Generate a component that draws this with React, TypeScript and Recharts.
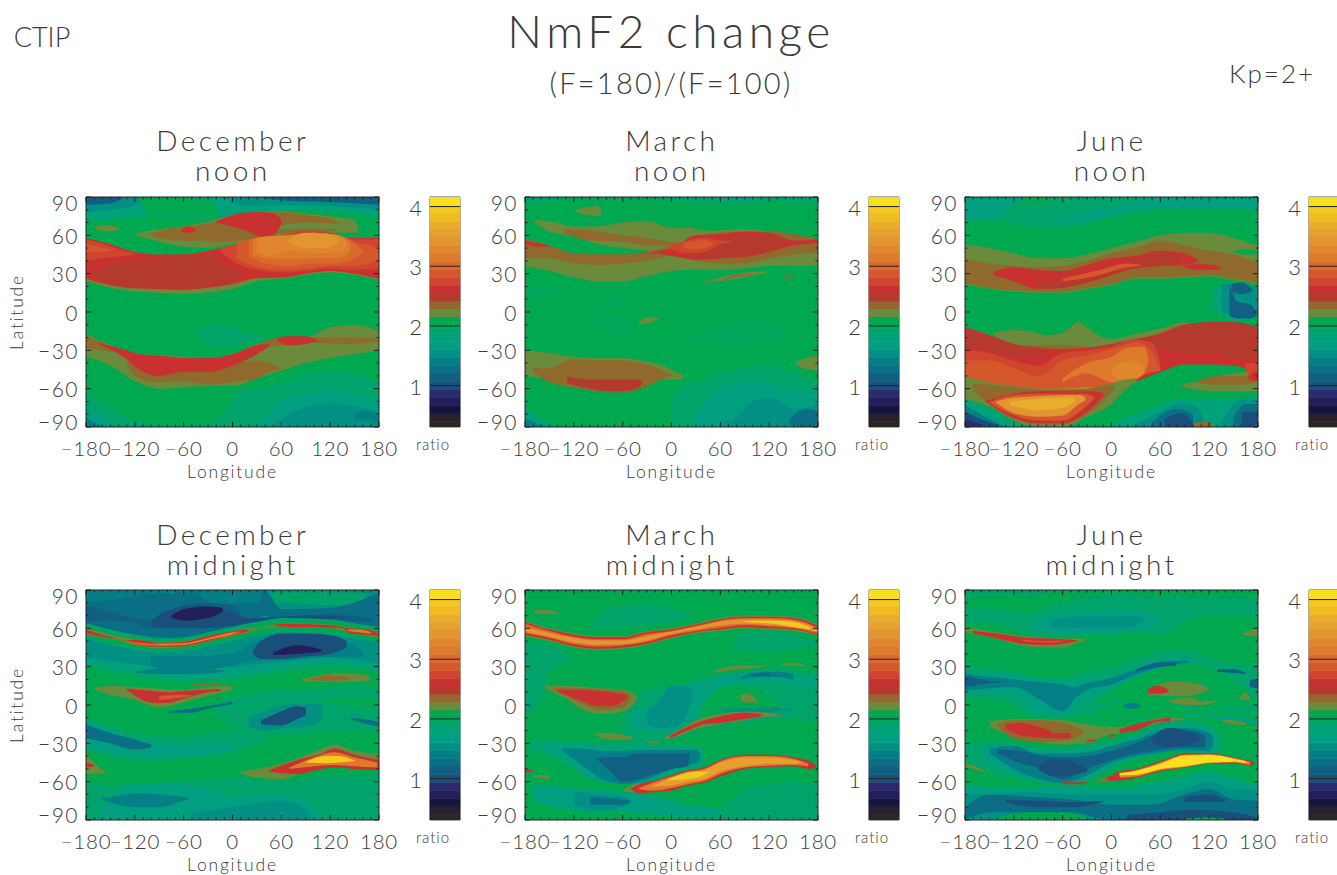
import React from "react";
import { ComposedChart, BarChart, Area, Bar, XAxis, YAxis, ReferenceLine, ReferenceArea } from "recharts";

type Layer = [number, number[][]];

const levelColors = [
  "#2a2624", "#2a1f2c", "#15143f", "#221f5a", "#2b2a6c", "#1a4f7c", "#115f82", "#0a6e85", "#047f86", "#028f84",
  "#009f80", "#00a27a", "#00a46a", "#00a65a", "#00a850", "#00a84f", "#6a8a3c", "#90692c", "#b53a2e", "#c93030",
  "#cf452d", "#d5582c", "#d96a2c", "#dd7a2c", "#e0862d", "#e3952f", "#e5a02f", "#e9ac2b", "#efbc24", "#f4c81f", "#f8e01e",
];
const levelBreaks = [0.306, 0.4, 0.53, 0.67, 0.8, 0.94, 1.07, 1.21, 1.34, 1.47, 1.61, 1.74, 1.88, 1.95, 2.01, 2.08, 2.15, 2.28, 2.41, 2.55, 2.68, 2.81, 2.95, 3.08, 3.22, 3.35, 3.49, 3.62, 3.75, 3.89, 4.02, 4.16];
const lonTicks = [-180, -170, -160, -150, -140, -130, -120, -110, -100, -90, -80, -70, -60, -50, -40, -30, -20, -10, 0, 10, 20, 30, 40, 50, 60, 70, 80, 90, 100, 110, 120, 130, 140, 150, 160, 170, 180];
const latTicks = [-90, -80, -70, -60, -50, -40, -30, -20, -10, 0, 10, 20, 30, 40, 50, 60, 70, 80, 90];
const ratioTicks = [1, 2, 3, 4];

const decNoon: Layer[] = [
  [14, [[-180, -90, 90], [180, -90, 90]]],
  [11, [[-180, 72, 90], [-150, 73, 90], [-120, 74, 90], [-90, 76, 90], [-60, 76, 90], [-30, 75, 90], [0, 74, 90], [30, 77, 90], [60, 79, 90], [90, 80, 90], [120, 79, 90], [150, 77, 90], [180, 75, 90]]],
  [9, [[-180, 78, 90], [-150, 80, 90], [-125, 82, 90], [-110, 89, 90]]],
  [9, [[-10, 89, 90], [15, 83, 90], [60, 84, 90], [120, 83, 90], [180, 80, 90]]],
  [6, [[-180, 84, 90], [-150, 85, 90], [-135, 89, 90]]],
  [6, [[40, 89, 90], [70, 87, 90], [120, 86, 90], [180, 84, 90]]],
  [14, [[-115, 89, 90], [-100, 76, 90], [-60, 77, 89], [-30, 76, 88], [-15, 75, 76]]],
  [16, [[-170, 66, 67], [-155, 63, 68], [-140, 64, 66]]],
  [16, [[-120, 60, 61], [-90, 55, 65], [-60, 51, 67], [-30, 50, 71], [0, 53, 76], [30, 57, 78], [60, 60, 79], [90, 62, 77], [120, 62, 75], [150, 62, 72], [155, 62, 63]]],
  [17, [[-100, 60, 62], [-70, 56, 66], [-40, 56, 68], [-10, 55, 72], [30, 58, 78], [60, 62, 78], [90, 62, 76], [120, 63, 73], [130, 64, 70]]],
  [16, [[50, 63, 65], [70, 65, 69], [100, 65, 70], [130, 65, 69], [135, 66, 67]]],
  [19, [[-63, 63, 64], [-55, 62, 67], [-45, 63, 65]]],
  [19, [[-20, 70, 71], [0, 67, 76], [20, 63, 78], [35, 59, 78], [50, 60, 77], [60, 69, 72]]],
  [16, [[-180, 24, 58], [-150, 19, 53], [-120, 16, 47], [-90, 15, 45], [-60, 14, 45], [-30, 15, 48], [0, 18, 52], [30, 24, 58], [60, 26, 60.5], [90, 29, 63], [120, 31, 62], [140, 30, 58], [180, 25, 58]]],
  [19, [[-180, 26, 58], [-150, 21, 53], [-120, 18.5, 47], [-90, 18, 45], [-60, 17.5, 45], [-30, 19, 48], [0, 22, 52], [30, 26.5, 58], [60, 27, 60.5], [90, 30, 63], [120, 32, 62], [140, 31, 58], [180, 26, 58]]],
  [20, [[-180, 40, 57], [-160, 42, 53.5], [-130, 44, 47.5], [-120, 45, 46]]],
  [21, [[-180, 47, 53], [-165, 47, 51], [-150, 48, 49]]],
  [18, [[-170, 27, 31], [-150, 22, 37], [-120, 19, 40], [-90, 19, 43], [-60, 18.5, 44], [-30, 20, 44], [-10, 22, 38], [10, 27, 29]]],
  [20, [[-15, 48, 50], [0, 40, 52], [30, 33, 58], [60, 31, 60], [90, 32, 62.5], [120, 34, 61], [140, 33, 57], [180, 34, 57]]],
  [21, [[5, 42, 54], [30, 35, 58], [60, 33, 60], [90, 34, 62], [120, 36, 61], [140, 36, 56], [170, 38, 52], [180, 42, 50]]],
  [22, [[20, 43, 56], [40, 38, 59], [70, 36, 60], [100, 38, 62], [130, 38, 60], [150, 42, 54], [160, 47, 48]]],
  [23, [[25, 45, 57], [40, 42, 59], [70, 41, 60], [100, 42, 62], [130, 42, 60], [145, 47, 54]]],
  [24, [[30, 47, 58], [45, 44, 59], [75, 48, 60], [100, 46, 62], [130, 47, 60], [140, 50, 55]]],
  [25, [[70, 54, 57], [90, 50, 62], [110, 50, 61], [125, 52, 60], [130, 55, 57]]],
  [12, [[-45, -15, -13], [-20, -27, -10], [0, -27, -12], [15, -24, -16], [40, -22, -19]]],
  [16, [[-180, -35, -17], [-150, -42, -26], [-120, -54, -33], [-90, -60, -33.5], [-60, -59, -35], [-30, -58, -36], [0, -58, -33], [30, -52, -25], [60, -46, -21], [90, -40, -20], [120, -36, -12], [150, -33, -10], [180, -30, -15]]],
  [17, [[-180, -28, -19], [-160, -30, -24], [-145, -31, -29]]],
  [17, [[-130, -40, -38], [-120, -50, -37], [-90, -55, -36], [-60, -54, -37], [-30, -57, -40], [0, -55, -40], [30, -52, -38], [45, -47, -40], [60, -45, -44]]],
  [17, [[30, -28, -26], [60, -26, -20], [100, -24, -20], [140, -25, -20], [180, -23, -21]]],
  [19, [[-165, -25, -24], [-130, -37, -30], [-115, -45, -33], [-90, -50, -34], [-60, -47, -36], [-30, -47, -36], [0, -42, -33], [30, -33, -26], [45, -27, -25]]],
  [19, [[56, -23, -20], [70, -26, -19], [90, -25, -19], [103, -23, -22]]],
  [12, [[-180, -90, -62], [-160, -90, -72], [-120, -90, -85], [-90, -90, -88], [-30, -90, -88], [0, -90, -70], [10, -90, -62], [30, -90, -60], [60, -90, -55], [90, -90, -49], [120, -90, -46], [150, -90, -48], [180, -90, -55]]],
  [10, [[-180, -90, -75], [-150, -90, -86], [-140, -90, -90]]],
  [10, [[30, -90, -88], [45, -90, -78], [60, -90, -70], [90, -90, -65], [120, -90, -62], [150, -90, -65], [180, -90, -68]]],
  [9, [[50, -90, -88], [70, -90, -80], [100, -90, -73], [120, -90, -71], [150, -90, -74], [180, -90, -78]]],
  [8, [[-180, -90, -82], [-165, -90, -88], [-155, -90, -90]]],
  [8, [[150, -84, -80], [165, -84, -77], [180, -88, -81]]],
];

const marNoon: Layer[] = [
  [14, [[-180, -90, 90], [180, -90, 90]]],
  [12, [[-180, 85, 90], [-100, 88, 90], [0, 87, 90], [60, 85, 90], [120, 86, 90], [180, 84, 90]]],
  [11, [[30, 89, 90], [60, 88, 90], [90, 86, 90], [110, 88, 90]]],
  [16, [[-119, 79, 80], [-105, 76, 82], [-90, 75, 83], [-86, 78, 80]]],
  [16, [[-170, 71, 72], [-150, 63, 71], [-120, 59, 67], [-90, 53, 67], [-60, 50, 70], [-30, 48, 71], [0, 46, 66], [20, 44, 66], [40, 45, 64], [60, 48, 63], [110, 55, 62], [120, 60, 61]]],
  [16, [[-180, 36, 57], [-150, 32, 50], [-120, 27, 46], [-90, 24, 45], [-60, 24, 45], [-30, 28, 47], [0, 32, 52], [30, 33, 62], [60, 33, 64], [90, 34, 65], [120, 36, 63], [150, 36, 60], [180, 36, 57]]],
  [17, [[-132, 62, 65], [-100, 56, 64], [-60, 55, 60], [-30, 52, 58], [0, 52, 55], [17, 53, 54]]],
  [17, [[-180, 42, 57], [-150, 42, 52], [-120, 38, 46], [-90, 37, 45], [-60, 38, 45], [-30, 40, 47], [0, 44, 52], [30, 40, 58], [60, 38, 62], [90, 38, 63], [120, 42, 63], [150, 45, 61], [180, 46, 57]]],
  [19, [[-180, 54, 56], [-165, 51, 54], [-150, 51, 52]]],
  [19, [[-45, 44, 44.5], [-20, 46, 47], [0, 44, 50], [30, 41, 60], [60, 42, 61], [90, 43, 63], [120, 47, 62], [150, 52, 56], [180, 54, 57]]],
  [18, [[20, 42, 50], [60, 42, 58], [90, 45, 60], [120, 48, 61], [145, 53, 54]]],
  [20, [[-5, 50, 50.5], [20, 46, 56], [40, 47, 58], [60, 53, 56], [75, 55, 55.5]]],
  [21, [[15, 50, 54], [30, 49, 56], [45, 51, 56], [50, 53, 54]]],
  [16, [[37, 22.5, 23], [60, 24, 27], [90, 27, 31], [119, 31, 32]]],
  [17, [[65, 24.5, 25.5], [75, 27, 28.5], [100, 29, 30]]],
  [17, [[138, 27.5, 28], [145, 27, 29], [150, 27.5, 28]]],
  [13, [[-178, 12, 18], [-160, 12, 19], [-138, 14, 16]]],
  [13, [[-90, 3, 4], [-70, 4, 11], [-50, 4, 13]]],
  [13, [[-100, -5, -3], [-80, -16, -2], [-50, -17, -3]]],
  [16, [[-40, -10, -7], [-25, -8, -4], [-15, -6, -5]]],
  [13, [[15, -20, -19], [40, -24, -14], [70, -27, -9], [100, -26, -7], [130, -21, -10], [150, -14, -13]]],
  [16, [[-180, -50, -30], [-150, -53, -32], [-120, -58, -35], [-90, -60, -36], [-60, -60, -36], [-30, -58, -39], [-10, -53, -42], [0, -53, -45], [15, -52, -50]]],
  [17, [[-170, -46, -43], [-150, -55, -44], [-120, -59, -37], [-90, -62, -38], [-60, -63, -38], [-30, -58, -41], [-10, -52, -46], [0, -50, -49]]],
  [18, [[-128, -56, -50], [-100, -60, -53], [-80, -62, -53], [-60, -62, -53], [-40, -59, -53], [-36, -55, -53]]],
  [16, [[152, -40, -39], [165, -45, -36], [180, -46, -34]]],
  [12, [[0, -90, -72], [10, -90, -60], [30, -90, -56], [60, -90, -48], [90, -90, -43], [120, -90, -42], [150, -90, -47], [180, -90, -55]]],
  [10, [[30, -90, -82], [50, -90, -66], [80, -90, -56], [110, -90, -55], [140, -90, -60], [180, -90, -63]]],
  [9, [[60, -90, -86], [80, -90, -82], [100, -90, -70], [120, -90, -67], [150, -90, -76], [180, -90, -72]]],
  [7, [[145, -88, -84], [165, -90, -76], [180, -90, -78]]],
  [10, [[-180, -90, -76], [-160, -90, -84], [-140, -90, -90]]],
  [8, [[-180, -90, -83], [-155, -90, -90]]],
];

const junNoon: Layer[] = [
  [14, [[-180, -90, 90], [180, -90, 90]]],
  [12, [[-180, 70, 90], [-140, 71, 90], [-100, 67, 90], [-60, 65, 90], [-30, 69, 90], [0, 74, 90], [60, 80, 90], [120, 80, 90], [180, 79, 90]]],
  [10, [[-180, 74, 90], [-150, 74, 90], [-120, 84, 90], [-100, 89, 90]]],
  [10, [[-70, 70, 71], [-30, 72, 79], [0, 76, 81], [60, 82, 90], [120, 82, 90], [180, 81, 90]]],
  [14, [[-110, 85, 90], [-90, 84, 90], [-70, 87, 90]]],
  [16, [[-180, 22, 53], [-150, 18, 50], [-120, 16, 46], [-90, 15, 42], [-60, 15, 42], [-30, 18, 45], [0, 21, 50], [30, 26, 55], [60, 26, 60], [90, 27, 62], [120, 28, 62], [150, 25, 58], [180, 22, 52]]],
  [14, [[150, 47, 48], [165, 45, 49], [180, 45, 48]]],
  [17, [[-180, 23, 41], [-150, 19, 38], [-120, 17, 36], [-90, 16, 35], [-60, 16, 36], [-30, 19, 40], [0, 22, 46], [30, 27, 50], [60, 27, 56], [90, 28, 52], [120, 29, 48], [150, 26, 45], [180, 23, 38]]],
  [19, [[-145, 29, 31], [-120, 24, 35], [-90, 18, 33], [-60, 19, 32], [-30, 23, 37], [0, 29, 42], [30, 34, 44], [60, 36, 48], [90, 37, 46], [105, 39, 41]]],
  [18, [[-90, 18, 24], [-60, 19, 24], [-30, 23, 28], [10, 32, 35], [60, 37, 46], [85, 39, 44]]],
  [19, [[88, 35, 36], [105, 33, 37.5], [125, 33, 37], [135, 33, 34]]],
  [21, [[-60, 24, 26], [-20, 28, 32], [20, 35, 38], [35, 36, 37]]],
  [11, [[125, 2, 18], [140, -4, 22], [160, -7, 22], [180, -2, 18]]],
  [9, [[135, 2, 22], [150, -3, 22], [165, -3, 22], [180, 2, 16]]],
  [6, [[145, -3, 22], [155, -5, 8], [170, -5, 6], [178, -3, 0]]],
  [6, [[148, 16, 22], [160, 14, 23], [172, 16, 18]]],
  [16, [[-145, -18, -16], [-120, -28, -14], [-100, -30, -15], [-80, -30, -18], [-60, -30, -16], [-40, -30, -8], [-30, -30, -12], [-10, -30, -20], [0, -30, -21], [30, -25, -17], [60, -25, -13], [90, -20, -8], [100, -15, -10]]],
  [17, [[-120, -27, -26], [-90, -30, -26], [-60, -30, -26], [-30, -29, -27]]],
  [17, [[10, -26, -24], [40, -24, -21], [60, -21, -16], [90, -20, -10], [100, -15, -12]]],
  [19, [[-180, -51, -12], [-150, -57, -18], [-120, -58, -25], [-90, -61, -28], [-60, -62, -29], [-30, -60, -28], [0, -56, -25], [30, -54, -21], [60, -47, -17], [90, -41, -10], [120, -41, -8], [150, -42, -8], [180, -47, -12]]],
  [18, [[-180, -28, -14], [-150, -30, -20], [-120, -35, -26], [-100, -34, -29], [-80, -33, -30]]],
  [18, [[40, -28, -20], [70, -30, -16], [90, -32, -10], [120, -32, -8], [150, -36, -8], [180, -38, -12]]],
  [20, [[-180, -52, -30], [-150, -56, -32], [-120, -58, -38], [-90, -61, -42], [-60, -62, -32], [-30, -60, -30], [0, -56, -27], [30, -52, -22], [50, -46, -24], [60, -44, -40]]],
  [21, [[-180, -52, -38], [-150, -56, -38], [-120, -58, -44], [-90, -61, -50], [-60, -62, -38], [-30, -60, -34], [0, -56, -29], [30, -52, -24], [45, -48, -28], [60, -46, -44]]],
  [23, [[-60, -55, -52], [-30, -48, -40], [0, -55, -35], [20, -55, -28], [40, -48, -27], [45, -40, -35]]],
  [24, [[0, -48, -44], [15, -54, -39], [30, -52, -38], [40, -48, -42]]],
  [24, [[-60, -62, -60], [-30, -61, -59], [-15, -60, -59]]],
  [16, [[-180, -68, -50], [-150, -74, -55], [-120, -85, -58], [-90, -90, -60], [-60, -90, -60], [-30, -82, -60], [0, -72, -56], [15, -62, -53], [30, -55, -52]]],
  [17, [[-170, -62, -56], [-150, -72, -57], [-120, -84, -59], [-90, -88, -61], [-60, -88, -61], [-30, -80, -60], [-10, -70, -58], [3, -60, -57]]],
  [19, [[-155, -70, -69.5], [-120, -83, -64], [-90, -87, -62], [-60, -87, -62], [-30, -78, -62], [-10, -66, -63]]],
  [21, [[-150, -71, -71], [-130, -78, -66], [-90, -85, -64], [-60, -85, -64], [-35, -76, -64], [-22, -68, -66]]],
  [25, [[-142, -71, -70], [-120, -79, -67], [-90, -82, -66], [-60, -81, -65], [-40, -72, -65], [-32, -69, -67]]],
  [27, [[-125, -73, -70], [-90, -77, -68], [-60, -75, -67], [-45, -70, -67]]],
  [16, [[85, -58, -57], [120, -62, -52], [150, -62, -48], [180, -62, -46]]],
  [17, [[105, -55, -54], [130, -57, -50], [160, -57, -50], [180, -54, -50]]],
  [20, [[165, -47, -40], [180, -52, -40]]],
  [19, [[168, -52, -50], [175, -54, -47], [180, -54, -46]]],
  [11, [[-180, -90, -68], [-150, -90, -76], [-120, -90, -86], [-90, -90, -90]]],
  [8, [[-180, -90, -73], [-155, -90, -82], [-130, -90, -90]]],
  [5, [[-180, -90, -78], [-160, -90, -84], [-140, -90, -88]]],
  [4, [[-180, -90, -84], [-160, -90, -88]]],
  [11, [[0, -90, -87], [30, -90, -80], [60, -90, -72], [90, -90, -68], [120, -90, -68], [150, -90, -68], [180, -90, -66]]],
  [9, [[30, -90, -88], [60, -90, -78], [85, -90, -72], [105, -90, -74], [115, -90, -88]]],
  [9, [[135, -90, -86], [150, -90, -72], [165, -90, -68], [180, -90, -68]]],
  [7, [[50, -90, -86], [80, -90, -76], [100, -90, -80]]],
  [7, [[150, -90, -82], [165, -90, -72], [180, -90, -72]]],
  [5, [[65, -90, -84], [85, -90, -79], [100, -90, -86]]],
  [5, [[160, -90, -78], [180, -90, -78]]],
  [17, [[100, -90, -87], [112, -90, -86], [125, -90, -87]]],
];

const decMid: Layer[] = [
  [14, [[-180, -90, 90], [180, -90, 90]]],
  [12, [[-180, 30, 90], [-120, 23, 90], [-60, 18, 90], [0, 20, 90], [60, 26, 90], [120, 30, 90], [180, 26, 90]]],
  [10, [[-180, 33, 90], [-120, 27, 90], [-60, 21, 90], [0, 23, 90], [60, 29, 90], [120, 33, 90], [180, 28, 90]]],
  [9, [[-180, 37, 90], [-120, 32, 90], [-60, 28, 90], [0, 30, 90], [60, 34, 90], [120, 37, 90], [180, 33, 90]]],
  [8, [[-120, 25, 26], [-60, 24, 30], [-30, 25, 28], [-10, 26, 27]]],
  [12, [[40, 78, 86], [60, 80, 89], [120, 78, 89], [160, 82, 88], [165, 84, 85]]],
  [7, [[-180, 62, 90], [-120, 55, 90], [-60, 52, 90], [0, 58, 90], [20, 60, 90], [40, 70, 89], [60, 62, 75], [120, 60, 76], [180, 60, 88]]],
  [10, [[-180, 86, 88], [-120, 87, 89], [-90, 88, 89.5], [-70, 87, 90]]],
  [8, [[-180, 80, 90], [-130, 84, 90], [-100, 88, 90], [-50, 88, 90], [-20, 78, 90], [25, 80, 90], [35, 80, 88]]],
  [6, [[-180, 65, 78], [-150, 66, 73], [-120, 64, 68], [-100, 60, 67], [-60, 60, 78], [-30, 60, 80], [0, 62, 78], [20, 62, 65], [120, 66, 71], [170, 65, 68]]],
  [5, [[-100, 62, 66], [-80, 60, 74], [-40, 60, 78], [0, 62, 72], [20, 64, 68], [100, 67, 70], [145, 68, 69]]],
  [3, [[-75, 68, 70], [-60, 66, 75], [-30, 68, 77], [-12, 73, 76]]],
  [8, [[-100, 30, 38], [-60, 26, 38], [0, 31, 40], [30, 35, 50], [60, 35, 52], [120, 38, 52], [160, 38, 42]]],
  [5, [[25, 40, 42], [35, 36, 50], [60, 36, 56], [90, 38, 56], [120, 40, 55], [140, 45, 50]]],
  [3, [[50, 39, 41], [80, 40, 47], [100, 41, 45], [110, 42, 43]]],
  [12, [[-180, 52, 64], [-150, 47, 59], [-120, 43, 55], [-90, 41, 52], [-60, 42, 53], [-30, 46, 57], [0, 50, 61], [20, 53, 64], [30, 54, 65], [60, 57, 68], [120, 55, 67], [150, 52, 64], [180, 49, 61]]],
  [14, [[-180, 54, 62], [-150, 49, 57], [-120, 45, 53], [-90, 43, 50], [-60, 44, 51], [-30, 48, 55], [0, 52, 59], [20, 55, 62], [30, 56, 63], [60, 59, 66], [120, 57, 65], [150, 54, 62], [180, 51, 59]]],
  [16, [[-180, 55, 60], [-150, 52, 55], [-120, 47, 51.5], [-90, 44.5, 49], [-60, 45.5, 50], [-30, 49.5, 54], [0, 54, 58], [20, 57, 60], [30, 59, 60], [60, 61, 64], [120, 60, 63], [150, 56, 60], [180, 53, 57]]],
  [19, [[-180, 56, 59], [-165, 54, 56], [-150, 52.5, 53.5], [-130, 50, 50.5], [-120, 48, 51], [-90, 45.5, 48.5], [-60, 46, 49.5], [-30, 50, 54], [0, 54.5, 57.5], [15, 57, 59], [20, 58, 58.5]]],
  [19, [[50, 62, 62.5], [60, 61.5, 63.5], [120, 60.5, 62.5], [135, 60, 61], [145, 56, 60], [165, 55, 59], [180, 54, 56]]],
  [22, [[-130, 49.5, 50], [-100, 46.5, 48], [-60, 47, 48.5], [-30, 51, 52.5], [0, 55, 57], [10, 57, 57.5]]],
  [25, [[-90, 46.8, 47.5], [-60, 47.3, 48], [-30, 51.5, 52], [0, 55.5, 56.5]]],
  [23, [[142, 58, 59], [155, 57, 59], [170, 56, 57]]],
  [17, [[-90, 6, 7], [-80, 5, 7]]],
  [16, [[-170, 12, 13], [-150, 8, 15], [-120, 4, 14], [-90, -2, 13], [-60, 2, 12], [-30, 7, 14], [0, 12, 15]]],
  [19, [[-130, 12, 13], [-100, 2, 11], [-80, 1.5, 10], [-60, 5, 11], [-30, 10, 12], [-15, 11, 12.5]]],
  [21, [[-90, 4, 7], [-60, 6, 8], [-50, 7, 7.5]]],
  [16, [[85, 19, 20.5], [105, 18, 23], [130, 18, 25], [160, 18, 24], [170, 20, 21]]],
  [17, [[95, 19.5, 20], [120, 19, 23], [145, 20, 21]]],
  [17, [[-50, 15, 16], [-30, 15, 17], [-15, 15.5, 16]]],
  [12, [[-20, -5, 0], [0, -17, 5], [30, -22, 10], [60, -23, 12], [90, -22, 12], [120, -20, 13], [150, -20, 15], [180, -20, 14]]],
  [9, [[20, -17, -10], [40, -20, -5], [60, -18, 0], [90, -17, 1], [110, -12, 0]]],
  [5, [[35, -15, -12], [60, -16, -5], [80, -11, -1], [90, -8, -2]]],
  [14, [[110, 2, 3], [135, 0, 5], [160, -2, 6], [180, -1, 2]]],
  [7, [[-80, -6, -5], [-50, -6, -3], [-30, -3, -1], [0, 1, 3]]],
  [7, [[145, -11, -10], [160, -14, -11], [180, -17, -13]]],
  [12, [[-180, -34, -10], [-120, -44, -22], [-60, -42, -25], [0, -37, -20], [30, -30, -22], [40, -28, -26]]],
  [10, [[-180, -32, -13], [-150, -38, -18], [-120, -40, -28], [-90, -42, -30], [-60, -40, -32], [-20, -38, -30], [0, -35, -30]]],
  [7, [[-180, -26, -15], [-150, -30, -22], [-120, -35, -27], [-100, -33, -31]]],
  [12, [[-180, -90, -63], [-120, -90, -62], [-60, -90, -60], [0, -90, -57], [60, -90, -60], [120, -90, -55], [180, -90, -55]]],
  [10, [[-165, -90, -85], [-120, -90, -62], [-60, -90, -62], [0, -90, -72], [60, -90, -70], [100, -90, -80], [110, -90, -90]]],
  [8, [[-160, -74, -73], [-140, -78, -71], [-120, -80, -69], [-90, -80, -70], [-60, -75, -72], [-55, -74, -73]]],
  [9, [[-50, -90, -85], [0, -90, -80], [60, -90, -75], [90, -90, -82], [95, -90, -88]]],
  [16, [[-180, -54, -38], [-165, -54, -48], [-155, -54, -53]]],
  [19, [[-180, -49, -45], [-170, -48, -47]]],
  [16, [[10, -53, -52], [30, -57, -50], [60, -58, -46], [90, -52, -39], [110, -49, -34], [125, -47, -31], [150, -50, -36], [180, -51, -38]]],
  [19, [[45, -52, -51], [80, -54, -43], [110, -50, -38], [125, -49, -34], [150, -50, -39], [180, -51, -43]]],
  [23, [[70, -50, -49], [100, -48, -41], [125, -47, -37], [150, -48, -41], [178, -49, -45]]],
  [29, [[90, -45, -44.5], [115, -45.5, -40], [130, -45, -40], [150, -44, -43.5]]],
];

const marMid: Layer[] = [
  [14, [[-180, -90, 90], [180, -90, 90]]],
  [12, [[-100, 60, 62], [-70, 60, 76], [-30, 62, 79], [0, 66, 76], [25, 68, 70]]],
  [16, [[-170, 73, 74], [-155, 71, 74.5], [-140, 71, 72]]],
  [12, [[-180, 15, 49], [-160, 23, 48], [-140, 30, 44], [-125, 36, 38]]],
  [12, [[-180, -8, 15], [-170, -6, 20], [-160, 5, 23], [-150, 15, 20]]],
  [12, [[75, 46, 50], [100, 42, 58], [130, 42, 58], [150, 44, 56], [180, 46, 48]]],
  [12, [[-60, -25, -8], [-30, -30, 12], [0, -28, 15], [30, -20, 20], [60, -16, 24], [90, -14, 26], [120, -12, 28], [150, -12, 27], [180, -12, 25]]],
  [14, [[25, -5, -3], [50, -8, 12], [80, -8, 15], [110, -6, 12], [135, -4, -2]]],
  [10, [[-50, -18, -8], [-30, -20, -2], [0, -22, 12], [20, -18, 16], [30, -8, 17], [60, 14, 22], [90, 18, 25], [120, 19, 26], [150, 16, 24], [180, 14, 18]]],
  [9, [[-30, -15, -5], [-15, -18, 4], [0, -18, 15], [15, -12, 15], [25, 5, 12]]],
  [8, [[85, 20, 22], [110, 22, 26], [130, 22, 26], [150, 20, 24]]],
  [6, [[100, 23, 24], [120, 23, 25]]],
  [9, [[60, -5, -4], [100, -6, -2], [120, -6, -2], [150, -4, -3]]],
  [16, [[50, 25, 26], [70, 27, 30], [100, 29, 31], [115, 30, 31]]],
  [16, [[135, 31, 32], [150, 31, 33], [165, 30, 31]]],
  [16, [[85, 3, 8], [95, 2, 9], [105, 2, 4]]],
  [16, [[-155, 13, 15], [-130, 5, 15], [-105, -5, 14], [-85, -7, 13], [-60, -5, 12], [-45, 2, 8], [-42, 5, 6]]],
  [17, [[-148, 12, 14], [-120, 4, 13], [-100, -2, 13], [-85, -4, 12], [-60, -2, 11], [-50, 4, 8]]],
  [19, [[-140, 11, 12], [-110, 3, 12], [-90, -1, 11], [-75, -1, 10], [-55, 5, 8]]],
  [16, [[-8, -27, -25], [10, -24, -19], [30, -19, -12], [60, -15, -7], [90, -12, -5], [120, -9, -6], [135, -9, -8]]],
  [19, [[-2, -26, -24], [20, -20, -17], [40, -15, -12], [60, -14, -9], [90, -11, -6], [110, -9, -7]]],
  [16, [[-95, -23, -22], [-75, -27, -22], [-55, -27, -24], [-45, -25, -25]]],
  [16, [[-28, -30, -29], [-15, -30.5, -28]]],
  [12, [[-175, -35, -27], [-150, -40, -28], [-120, -50, -28], [-90, -60, -30], [-60, -62, -29], [-30, -62, -30], [0, -55, -31], [30, -50, -33], [40, -48, -34]]],
  [10, [[-155, -35, -30], [-130, -43, -31], [-100, -58, -31], [-60, -62, -33], [-30, -60, -33], [0, -53, -33], [30, -47, -34], [38, -46, -36]]],
  [8, [[-135, -35, -34], [-110, -47, -34], [-85, -58, -36], [-55, -62, -36], [-30, -58, -35], [0, -50, -35], [30, -45, -35], [35, -43, -38]]],
  [6, [[-92, -42, -41.5], [-75, -52, -41], [-60, -60, -41], [-40, -58, -38], [-20, -54, -38], [0, -50, -38], [20, -48, -38], [22, -40, -38]]],
  [10, [[-170, -75, -62], [-140, -80, -64], [-100, -84, -66], [-60, -84, -68], [-20, -86, -72], [20, -88, -78], [70, -90, -82]]],
  [9, [[-120, -78, -68], [-90, -82, -70], [-60, -80, -72], [-50, -76, -74]]],
  [7, [[-100, -78, -72], [-60, -78, -74], [-50, -76, -75]]],
  [12, [[50, -90, -88], [90, -90, -66], [120, -90, -62], [150, -90, -60], [180, -90, -65]]],
  [19, [[-180, -53, -50], [-170, -52, -51]]],
  [16, [[-170, -57, -55], [-150, -58, -55]]],
  [16, [[-60, -68, -67], [-50, -68, -63], [-38, -69, -61]]],
  [19, [[-50, -66, -65.5], [-40, -69, -62], [-20, -68, -59], [0, -67, -55], [20, -63, -51], [40, -61, -49], [60, -56, -43], [90, -50, -39], [120, -48.5, -39], [150, -48, -41], [170, -50, -44], [178, -49, -48]]],
  [23, [[-40, -66, -65], [-20, -67, -60], [0, -65, -56], [20, -62, -52], [40, -59.5, -50], [60, -54, -44], [90, -49, -40], [120, -47.5, -40], [150, -47, -42], [168, -48, -46]]],
  [26, [[-25, -64, -63.5], [0, -63, -57], [20, -60, -53], [40, -58, -51], [60, -52, -45], [90, -48, -41], [120, -46, -41], [150, -46, -43], [160, -45, -44.5]]],
  [29, [[-5, -59, -58.5], [20, -58, -53], [35, -56, -52], [45, -53, -52.5]]],
  [16, [[-180, 54, 66], [-150, 50, 60], [-120, 45, 56], [-90, 43, 54], [-60, 44, 54], [-30, 47, 58], [0, 52, 60], [30, 56, 64], [60, 58, 68], [90, 60, 70], [120, 59, 70], [150, 58, 69], [180, 54, 63]]],
  [19, [[-180, 55, 65], [-150, 51, 59], [-120, 46, 55], [-90, 44, 53], [-60, 45, 53], [-30, 48, 57], [0, 53, 59], [30, 57, 63], [60, 59, 67], [90, 61, 69], [120, 60, 69], [150, 59, 68], [180, 55, 62]]],
  [22, [[-180, 56.5, 63.5], [-150, 52.5, 58], [-120, 47.5, 53.5], [-90, 45.5, 51.5], [-60, 46.5, 51.5], [-30, 49.5, 55.5], [0, 54.5, 58], [30, 58, 62], [60, 60.5, 66], [90, 62.5, 68], [120, 61.5, 68], [150, 60, 67], [180, 56, 60.5]]],
  [25, [[-180, 57, 61], [-150, 53.5, 56.5], [-120, 49, 52.5], [-90, 47, 50.5], [-60, 47.5, 50.5], [-30, 50.5, 54], [0, 55.5, 57.5], [30, 59, 61], [60, 62, 65.5], [90, 63.5, 67], [120, 62.5, 67], [150, 61, 66], [180, 57, 59.5]]],
  [29, [[90, 65, 66], [125, 63.5, 66], [150, 61, 65], [170, 59, 61]]],
];

const junMid: Layer[] = [
  [14, [[-180, -90, 90], [180, -90, 90]]],
  [12, [[-180, 65, 77], [-140, 63, 75], [-100, 55, 72], [-60, 53, 80], [-30, 55, 85], [0, 55, 88], [30, 56, 86], [60, 55, 85], [90, 65, 85], [120, 71, 84], [150, 70, 84], [180, 70, 83]]],
  [12, [[-180, 84, 89], [-120, 86, 89], [-80, 86, 88]]],
  [10, [[-95, 58, 66], [-60, 56, 72], [-30, 56, 73], [0, 57, 74], [30, 58, 74], [50, 60, 70], [60, 65, 68]]],
  [9, [[-75, 60, 66], [-40, 60, 69], [0, 60, 69], [30, 62, 70], [40, 66, 68]]],
  [12, [[-180, 6, 32], [-150, 5, 28], [-120, 0, 26], [-90, -10, 22], [-60, -10, 22], [-30, -8, 26], [0, 0, 30], [30, 5, 36], [60, 4, 42], [90, -3, 44], [120, -3, 36], [150, -5, 32], [180, -5, 30]]],
  [14, [[-20, 1, 2], [30, 3, 22], [60, 2, 28], [90, 0, 32], [120, -2, 30], [150, -2, 20], [180, 3, 4]]],
  [10, [[-180, 10, 26], [-120, 8, 23], [-90, -7, 20], [-60, -8, 18], [-30, 4, 20], [0, 14, 22], [30, 22, 30], [60, 29, 36], [90, 33, 38], [105, 35, 36]]],
  [8, [[-180, 11, 24], [-120, 14, 20], [-90, 5, 18], [-60, -5, 16], [-45, 5, 14], [-30, 12, 17], [0, 16, 21], [30, 24, 28], [60, 30, 34], [95, 33, 35]]],
  [6, [[-180, 14, 23], [-150, 17, 19], [-130, 18, 18.5]]],
  [6, [[30, 26, 27], [60, 30, 33], [80, 31, 33]]],
  [6, [[130, 26, 28], [150, 25, 28], [165, 24, 25]]],
  [6, [[170, 14, 20], [180, 13, 20]]],
  [16, [[-180, 57, 61], [-150, 53, 58], [-120, 48, 55], [-90, 45, 53], [-60, 45, 52], [-40, 49, 52], [-30, 51, 51.5]]],
  [19, [[-170, 56, 58], [-140, 52, 56], [-110, 48, 53], [-80, 47, 52], [-50, 49, 51], [-42, 50, 50.5]]],
  [21, [[-110, 50, 51], [-80, 49, 50], [-60, 49.5, 50.5]]],
  [16, [[162, 55, 57], [180, 53, 60]]],
  [16, [[45, 8, 12], [70, 7, 18], [90, 7, 18], [110, 9, 16], [120, 12, 13]]],
  [19, [[45, 9, 12], [55, 9, 15], [70, 10, 12]]],
  [16, [[70, 2, 3], [95, 0, 6.5], [110, 0, 3], [130, 3, 3.5]]],
  [8, [[15, -2, 0.5], [27, -3, 2], [35, -2, 0]]],
  [16, [[157, 4, 5], [165, 4, 10], [170, 4.5, 5]]],
  [10, [[90, -8, -7], [120, -9, -7], [150, -12, -9], [180, -14, -11]]],
  [16, [[-150, -17, -13], [-120, -25, -11], [-90, -29, -11], [-60, -31, -12], [-30, -30, -15], [-10, -25, -17], [10, -22, -17], [40, -17, -14], [60, -14, -10], [90, -13, -10.5]]],
  [17, [[-140, -17, -15], [-120, -26, -12], [-90, -29, -12], [-60, -28, -14], [-35, -23, -20]]],
  [19, [[-130, -19, -15], [-110, -24, -14], [-90, -25, -17], [-75, -24, -20]]],
  [19, [[-90, -25.5, -23], [-70, -26, -22], [-50, -26, -22]]],
  [19, [[-30, -29, -27], [-20, -28, -27]]],
  [19, [[-2, -25, -23], [5, -24.5, -23.5]]],
  [19, [[10, -22, -19], [30, -20, -15], [60, -13, -11], [72, -13, -10]]],
  [16, [[135, -12.5, -11], [150, -15, -12], [165, -16, -14]]],
  [16, [[170, -18, -17], [180, -18.5, -17]]],
  [16, [[-180, -48, -46], [-170, -50, -47], [-155, -53, -52]]],
  [12, [[-180, -45, -30], [-150, -52, -28], [-120, -58, -30], [-90, -60, -33], [-60, -62, -33], [-30, -60, -30], [0, -50, -28], [30, -40, -22], [60, -32, -14], [90, -30, -12], [120, -42, -16], [135, -35, -25]]],
  [10, [[-160, -42, -32], [-130, -52, -32], [-90, -60, -35], [-60, -62, -36], [-30, -58, -34], [0, -48, -31], [30, -42, -25], [60, -38, -18], [90, -36, -15], [120, -38, -18], [130, -30, -25]]],
  [8, [[-150, -38, -34], [-120, -50, -32], [-90, -58, -38], [-60, -61, -38], [-30, -55, -37], [0, -45, -32], [30, -40, -27], [60, -37, -20], [90, -35, -18], [120, -36, -22], [125, -30, -26]]],
  [6, [[-140, -38, -35], [-110, -46, -36], [-85, -50, -40], [-60, -58, -41], [-30, -50, -40], [0, -43, -36], [30, -38, -30], [60, -35, -22], [90, -33, -20], [115, -33, -23]]],
  [5, [[-90, -50, -48], [-70, -56, -42], [-50, -55, -44], [-30, -52, -50]]],
  [5, [[50, -30, -25], [70, -33, -18], [100, -30, -22], [108, -28, -25]]],
  [10, [[-180, -90, -63], [-120, -90, -65], [-60, -90, -63], [0, -90, -65], [60, -90, -60], [90, -90, -56], [120, -90, -52], [150, -90, -58], [180, -90, -62]]],
  [9, [[-180, -88, -70], [-150, -90, -70], [-100, -88, -68], [-50, -90, -70], [0, -90, -70], [50, -90, -70], [90, -90, -66], [120, -90, -60], [150, -90, -66], [180, -90, -66]]],
  [7, [[-180, -90, -80], [-150, -84, -70], [-100, -84, -72], [-50, -84, -74], [0, -90, -78], [50, -90, -78], [90, -90, -70], [120, -90, -66], [150, -90, -74], [180, -90, -75]]],
  [5, [[-130, -76, -74], [-90, -80, -75], [-50, -80, -76], [-10, -76, -75]]],
  [5, [[90, -76, -72], [120, -76, -70], [140, -76, -74]]],
  [5, [[20, -90, -86], [60, -90, -84], [100, -90, -82], [150, -90, -84], [180, -90, -88]]],
  [14, [[-140, -90, -88], [-100, -90, -84], [-60, -90, -84], [-30, -90, -88]]],
  [14, [[90, -90, -89], [115, -90, -88], [140, -90, -89]]],
  [16, [[-20, -60, -59], [0, -59, -55]]],
  [19, [[-60, -62, -60], [-40, -62, -60.5], [-30, -61, -60.5]]],
  [17, [[-10, -59, -57], [5, -59, -54], [25, -57, -52]]],
  [19, [[-5, -59, -57], [10, -59, -52], [30, -57, -50], [60, -52, -44], [90, -49, -38], [120, -46, -37.5], [150, -46, -41], [175, -48, -44]]],
  [24, [[10, -57, -53], [30, -56, -51], [60, -51, -45], [90, -48.5, -39], [120, -45.5, -38.5], [150, -45, -41.5], [170, -47, -44.5]]],
  [30, [[10, -55, -53.5], [30, -54.5, -51.5], [60, -50, -46], [90, -48, -39.5], [120, -45, -39], [150, -44.5, -42], [165, -45.5, -44]]],
];

const PLOT_W = 293;
const PLOT_H = 230;
const M = { top: 8, right: 30, bottom: 60, left: 80 };
const TEXT = "#3a3a3a";
const FONT = "Lato, 'Open Sans', sans-serif";
const MAJOR_LON = [-180, -120, -60, 0, 60, 120, 180];
const MAJOR_LAT = [-90, -60, -30, 0, 30, 60, 90];

const fmt = (v: number) => (v < 0 ? "\u2212" + Math.abs(v) : String(v));

function BottomTick(p: any) {
  const v = p.payload.value;
  const major = MAJOR_LON.includes(v);
  return (
    <g>
      <line x1={p.x} x2={p.x} y1={p.y} y2={p.y - (major ? 5 : 2.5)} stroke="#222" />
      {major ? <text x={p.x} y={p.y + 29} textAnchor="middle" fontFamily={FONT} fontWeight={300} fontSize={20.5} letterSpacing={0.8} fill={TEXT}>{fmt(v)}</text> : null}
    </g>
  );
}
function TopTick(p: any) {
  const major = MAJOR_LON.includes(p.payload.value);
  return <line x1={p.x} x2={p.x} y1={p.y} y2={p.y + (major ? 5 : 2.5)} stroke="#222" />;
}
function LeftTick(p: any) {
  const v = p.payload.value;
  const major = MAJOR_LAT.includes(v);
  const shift = v === 90 ? 14 : v === -90 ? 2.5 : 8.5;
  return (
    <g>
      <line x1={p.x} x2={p.x + (major ? 5 : 2.5)} y1={p.y} y2={p.y} stroke="#222" />
      {major ? <text x={p.x - 7} y={p.y + shift} textAnchor="end" fontFamily={FONT} fontWeight={300} fontSize={21} letterSpacing={1.5} fill={TEXT}>{fmt(v)}</text> : null}
    </g>
  );
}
function RightTick(p: any) {
  const major = MAJOR_LAT.includes(p.payload.value);
  return <line x1={p.x} x2={p.x - (major ? 5 : 2.5)} y1={p.y} y2={p.y} stroke="#222" />;
}
function RatioTick(p: any) {
  return <text x={p.x - 8} y={p.y + 9} textAnchor="end" fontFamily={FONT} fontWeight={300} fontSize={22} fill={TEXT}>{p.payload.value}</text>;
}
function RatioName(p: any) {
  return <text x={p.x - 12} y={p.y + 23} textAnchor="middle" fontFamily={FONT} fontWeight={300} fontSize={15} letterSpacing={1} fill={TEXT}>ratio</text>;
}

function ColorBar({ left, top }: { left: number; top: number }) {
  const row: Record<string, any> = { name: "ratio", base: levelBreaks[0] };
  levelColors.forEach((_, i) => { row["b" + i] = levelBreaks[i + 1] - levelBreaks[i]; });
  return (
    <div style={{ position: "absolute", left: left - 30, top: top - 8 }}>
      <BarChart width={70} height={PLOT_H + 40} data={[row]} margin={{ top: 8, right: 10, bottom: 31, left: 29 }} barCategoryGap={0}>
        <Bar dataKey="base" stackId="s" fill="none" isAnimationActive={false} />
        {levelColors.map((c, i) => <Bar key={i} dataKey={"b" + i} stackId="s" fill={c} stroke={c} strokeWidth={0.6} isAnimationActive={false} />)}
        {ratioTicks.map((t) => <ReferenceLine key={t} y={t} stroke="#222" />)}
        <ReferenceArea y1={levelBreaks[0]} y2={levelBreaks[levelBreaks.length - 1]} fill="none" stroke="#555" fillOpacity={0} />
        <XAxis dataKey="name" height={1} axisLine={false} tickLine={false} tickSize={0} tickMargin={0} tick={RatioName} interval={0} />
        <YAxis type="number" domain={[levelBreaks[0], levelBreaks[levelBreaks.length - 1]]} ticks={ratioTicks} width={1} axisLine={false} tickLine={false} tickSize={0} tickMargin={0} tick={RatioTick} allowDataOverflow interval={0} />
      </BarChart>
    </div>
  );
}

const AXIS_LABEL = { fontFamily: FONT, fontSize: 17.5, letterSpacing: 1.8, fill: TEXT, fontWeight: 300 };

function Panel({ left, top, layers, month, time, showLat }: { left: number; top: number; layers: Layer[]; month: string; time: string; showLat: boolean }) {
  return (
    <>
      <Title x={left + PLOT_W / 2} y={top - 41.5} size={28} spacing={3.4} lineHeight="30px">{month}<br />{time}</Title>
      <div style={{ position: "absolute", left: left - M.left, top: top - M.top }}>
        <ComposedChart width={PLOT_W + M.left + M.right} height={PLOT_H + M.top + M.bottom} margin={{ top: M.top - 1, right: M.right - 1, bottom: M.bottom - 1, left: M.left - 1 }}>
          {layers.map(([lvl, pts], i) => (
            <Area
              key={i}
              xAxisId={0}
              yAxisId={0}
              data={pts.map(([lon, lo, hi]) => ({ lon, band: [lo, hi] }))}
              dataKey="band"
              type="monotone"
              fill={levelColors[lvl]}
              fillOpacity={1}
              stroke="none"
              dot={false}
              activeDot={false}
              legendType="none"
              isAnimationActive={false}
            />
          ))}
          <XAxis xAxisId={0} type="number" dataKey="lon" domain={[-180, 180]} ticks={lonTicks} interval={0} height={1} tickLine={false} tickSize={0} tickMargin={0} stroke="#222" tick={BottomTick} allowDataOverflow
            label={{ value: "Longitude", position: "bottom", offset: 38, style: AXIS_LABEL }} />
          <XAxis xAxisId="t" orientation="top" type="number" dataKey="lon" domain={[-180, 180]} ticks={lonTicks} interval={0} height={1} tickLine={false} tickSize={0} tickMargin={0} stroke="#222" tick={TopTick} allowDataOverflow />
          <YAxis yAxisId={0} type="number" domain={[-90, 90]} ticks={latTicks} interval={0} width={1} tickLine={false} tickSize={0} tickMargin={0} stroke="#222" tick={LeftTick} allowDataOverflow
            label={showLat ? { value: "Latitude", angle: -90, position: "left", offset: 68, style: { ...AXIS_LABEL, textAnchor: "middle" } } : undefined} />
          <YAxis yAxisId="r" orientation="right" type="number" domain={[-90, 90]} ticks={latTicks} interval={0} width={1} tickLine={false} tickSize={0} tickMargin={0} stroke="#222" tick={RightTick} allowDataOverflow />
        </ComposedChart>
      </div>
      <ColorBar left={left + 344} top={top} />
    </>
  );
}

function Title({ x, y, size, spacing, lineHeight, children }: { x: number; y: number; size: number; spacing: number; lineHeight?: string; children: React.ReactNode }) {
  return (
    <div style={{ position: "absolute", left: x, top: y, transform: "translate(-50%,-50%)", fontFamily: FONT, fontWeight: 300, fontSize: size, letterSpacing: spacing, color: TEXT, whiteSpace: "nowrap", lineHeight: lineHeight || 0.9, textAlign: "center" }}>
      {children}
    </div>
  );
}

const COL = [86.3, 525.3, 965];
const ROW = [196.7, 590.3];

export default function App() {
  return (
    <div style={{ position: "absolute", left: 0, top: 0, width: 1337, height: 875, overflow: "hidden", background: "#fff" }}>
      <Title x={42} y={37} size={27} spacing={0}>CTIP</Title>
      <Title x={671} y={31} size={46} spacing={4.5}>NmF2 change</Title>
      <Title x={671} y={83} size={29} spacing={2.2}>(F=180)/(F=100)</Title>
      <Title x={1272} y={74} size={26} spacing={2}>Kp=2+</Title>
      <Panel left={COL[0]} top={ROW[0]} layers={decNoon} month="December" time="noon" showLat />
      <Panel left={COL[1]} top={ROW[0]} layers={marNoon} month="March" time="noon" showLat={false} />
      <Panel left={COL[2]} top={ROW[0]} layers={junNoon} month="June" time="noon" showLat={false} />
      <Panel left={COL[0]} top={ROW[1]} layers={decMid} month="December" time="midnight" showLat />
      <Panel left={COL[1]} top={ROW[1]} layers={marMid} month="March" time="midnight" showLat={false} />
      <Panel left={COL[2]} top={ROW[1]} layers={junMid} month="June" time="midnight" showLat={false} />
    </div>
  );
}
